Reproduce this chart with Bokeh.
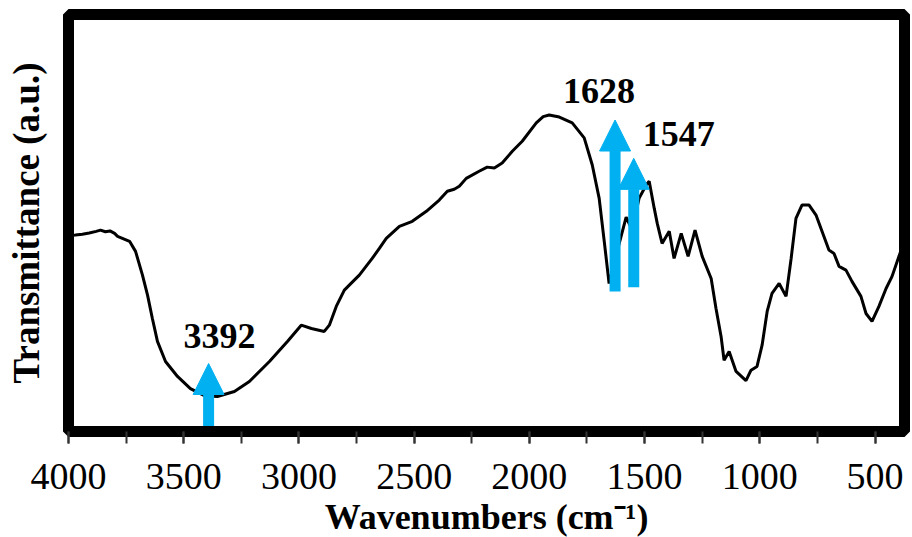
from bokeh.plotting import figure
from bokeh.models import Range1d, SingleIntervalTicker, FixedTicker, Arrow, NormalHead, ColumnDataSource
from bokeh.core.properties import value
from bokeh.embed import file_html
from bokeh.resources import INLINE

# FTIR spectrum
wavenumber = [4000, 3970, 3940, 3910, 3880, 3861, 3840, 3820, 3800, 3787, 3735, 3709, 3679,
              3657, 3636, 3614, 3579, 3527, 3471, 3410, 3354, 3280, 3215, 3128, 3050,
              2990, 2946, 2890, 2868, 2838, 2803, 2738, 2682, 2651, 2621, 2564, 2508,
              2447, 2391, 2356, 2326, 2304, 2274, 2218, 2183, 2152, 2118, 2074, 2031,
              1970, 1940, 1914, 1870, 1814, 1762, 1727, 1697, 1675, 1654, 1619, 1580,
              1554, 1524, 1493, 1480, 1458, 1445, 1424, 1393, 1372, 1341, 1311, 1281,
              1250, 1211, 1190, 1168, 1155, 1133, 1103, 1060, 1038, 1012, 990, 968,
              947, 916, 886, 864, 843, 817, 786, 756, 730, 700, 678, 656, 626, 600,
              561, 539, 513, 483, 452, 426, 396, 372]
transmittance = [47.0, 47.1, 47.3, 47.6, 48.0, 48.3, 47.9, 48.1, 47.5, 46.8, 45.6, 43.2, 37.5,
                 32.7, 27.1, 21.6, 16.8, 13.2, 10.3, 8.6, 8.4, 9.6, 12.0, 16.8, 21.6,
                 25.5, 24.7, 24.0, 25.5, 30.0, 33.9, 37.5, 41.5, 43.9, 46.3, 49.2, 50.4,
                 52.8, 55.5, 57.6, 58.1, 58.8, 60.7, 62.4, 63.4, 63.2, 64.4, 67.2, 69.6,
                 74.0, 75.5, 75.9, 75.4, 74.0, 70.4, 63.9, 55.9, 45.6, 35.5, 43.2, 51.4,
                 48.3, 55.9, 59.1, 60.0, 53.5, 49.9, 45.1, 48.0, 41.5, 47.5, 42.0, 48.3,
                 42.0, 36.7, 29.5, 22.8, 17.1, 19.2, 14.4, 12.2, 14.7, 15.6, 20.7, 28.8,
                 33.1, 35.5, 32.4, 41.5, 51.1, 54.3, 54.3, 51.9, 48.0, 43.5, 42.7, 39.6, 38.7, 36.0,
                 32.4, 28.3, 26.4, 30.0, 34.3, 37.2, 42.0, 46.0]

# Annotated peaks
peak_labels = ["3392", "1628", "1547"]
peak_positions = [3392, 1628, 1547]
arrow_tips = [16.3, 74.7, 65.5]
arrow_bases = [1.3, 33.6, 34.6]

x_ticks_interval = 500
x_title = "Wavenumbers (cm⁻¹)"
y_title = "Transmittance (a.u.)"

BLUE = "#00B0F0"
SERIF = "Liberation Serif"

p = figure(frame_width=836, frame_height=417, output_backend="svg", toolbar_location=None,
           x_range=Range1d(4000, 372), y_range=Range1d(0, 100),
           min_border_left=68, min_border_right=7, min_border_top=14, min_border_bottom=0)
p.background_fill_color = "white"
p.border_fill_color = "white"
p.grid.visible = False
p.outline_line_color = "black"
p.outline_line_width = 11
p.outline_line_alpha = 1.0

p.line(wavenumber, transmittance, line_color="black", line_width=3)

for pos, tip, base in zip(peak_positions, arrow_tips, arrow_bases):
    p.add_layout(Arrow(end=NormalHead(size=31, fill_color=BLUE, line_color=BLUE, line_width=1),
                       x_start=pos, y_start=base, x_end=pos, y_end=tip,
                       line_color=BLUE, line_width=11))

label_src = ColumnDataSource(dict(x=peak_positions, y=[22.9, 81.7, 71.3],
                                  t=peak_labels, dx=[11, -16, 45]))
p.text(x="x", y="y", text="t", x_offset="dx", source=label_src,
       text_font=value(SERIF), text_font_size="36px", text_font_style="bold",
       text_align="center", text_baseline="alphabetic", text_color="black")

xa = p.xaxis[0]
xa.ticker = SingleIntervalTicker(interval=x_ticks_interval, num_minor_ticks=2)
xa.axis_line_color = None
xa.major_tick_in = 0
xa.major_tick_out = 12
xa.minor_tick_in = 0
xa.minor_tick_out = 12
xa.major_tick_line_width = 2
xa.minor_tick_line_width = 2
xa.major_tick_line_color = "#333333"
xa.minor_tick_line_color = "#333333"
xa.major_label_text_font = SERIF
xa.major_label_text_font_size = "38px"
xa.major_label_text_color = "black"
xa.major_label_standoff = 20
xa.axis_label = x_title
xa.axis_label_text_font = SERIF
xa.axis_label_text_font_size = "36px"
xa.axis_label_text_font_style = "bold"
xa.axis_label_text_color = "black"
xa.axis_label_standoff = 5

ya = p.yaxis[0]
ya.ticker = FixedTicker(ticks=[])
ya.axis_line_color = None
ya.major_tick_line_color = None
ya.minor_tick_line_color = None
ya.major_label_text_font_size = "0px"
ya.axis_label = y_title
ya.axis_label_text_font = SERIF
ya.axis_label_text_font_size = "37px"
ya.axis_label_text_font_style = "bold"
ya.axis_label_text_color = "black"
ya.axis_label_standoff = 22

open("out.html", "w").write(file_html(p, INLINE))
